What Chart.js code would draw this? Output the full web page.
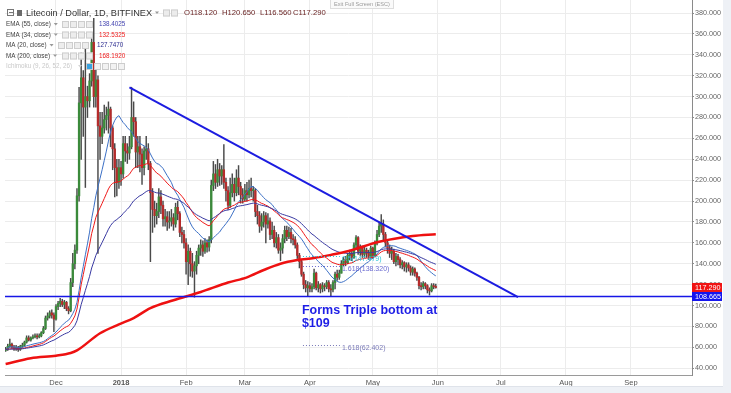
<!DOCTYPE html>
<html>
<head>
<meta charset="utf-8">
<script src="https://cdn.jsdelivr.net/npm/chart.js@4.4.0/dist/chart.umd.min.js"></script>
<style>
  html, body { margin: 0; padding: 0; background: #fff; }
</style>
</head>
<body>
<canvas id="ltcChart" width="731" height="393"></canvas>
<script>
// Litecoin / Dollar, 1D, Bitfinex - daily candles
// days are counted from 1 Nov 2017 (= day 0)
const firstDay = 6;
const firstOpen = 57;
const closes = [
  58, 61, 63, 60, 59, 60, 58, 61, 62, 65,
  69, 67, 69, 70, 71, 70, 71, 74, 78, 88,
  90, 93, 91, 87, 99, 102, 104, 101, 103, 97,
  95, 122, 140, 153, 205, 294, 318, 290, 300, 296,
  315, 352, 300, 316, 272, 262, 270, 278, 282, 288,
  270, 250, 232, 218, 232, 226, 255, 248, 246, 252,
  280, 276, 247, 252, 245, 232, 248, 250, 236, 208,
  192, 186, 190, 204, 196, 183, 185, 180, 181, 184,
  178, 194, 188, 170, 168, 160, 142, 152, 140, 133,
  138, 148, 155, 158, 152, 160, 156, 163, 215, 226,
  218, 230, 224, 230, 218, 210, 196, 208, 216, 208,
  222, 214, 206, 202, 210, 206, 212, 210, 210, 190,
  186, 176, 180, 186, 178, 181, 168, 172, 160, 165,
  153, 155, 164, 172, 166, 170, 164, 163, 158, 148,
  142, 130, 120, 117, 119, 116, 118, 131, 117, 120,
  116, 119, 118, 122, 116, 115, 122, 130, 127, 131,
  140, 144, 141, 148, 150, 146, 158, 165, 152, 156,
  149, 153, 150, 147, 155, 148, 160, 168, 176, 178,
  168, 160, 155, 150, 152, 142, 147, 144, 139, 141,
  137, 139, 136, 132, 135, 131, 127, 119, 118, 121,
  119, 115, 114, 119, 118.12, 117.29
];
const highs = [
  60, 63, 68, 64, 62, 62, 61, 62, 64, 66,
  71, 71, 70, 72, 73, 73, 73, 75, 80, 90,
  93, 95, 96, 93, 101, 104, 107, 106, 105, 104,
  99, 126, 150, 158, 212, 309, 342, 325, 350, 310,
  322, 358, 375, 330, 320, 285, 285, 292, 290, 295,
  290, 272, 255, 240, 240, 238, 262, 262, 255, 262,
  309, 295, 280, 262, 262, 250, 252, 262, 255, 238,
  212, 200, 198, 212, 210, 200, 192, 190, 190, 192,
  188, 198, 200, 190, 175, 172, 164, 158, 155, 150,
  142, 152, 158, 163, 162, 164, 163, 166, 220, 238,
  235, 240, 236, 234, 254, 222, 214, 222, 226, 222,
  230, 234, 218, 212, 216, 218, 220, 222, 214, 212,
  196, 190, 188, 190, 189, 188, 184, 180, 176, 170,
  168, 160, 168, 176, 176, 175, 174, 168, 166, 160,
  150, 144, 132, 124, 123, 122, 121, 135, 132, 123,
  121, 122, 121, 124, 124, 120, 124, 132, 134, 134,
  143, 146, 147, 150, 153, 152, 160, 167, 166, 158,
  157, 156, 155, 153, 157, 156, 162, 172, 180, 187,
  182, 170, 163, 158, 156, 154, 150, 149, 146, 143,
  142, 141, 141, 138, 137, 136, 132, 128, 122, 123,
  122, 120, 117, 121, 121, 120.65
];
const lows = [
  56, 57, 60, 59, 57, 57, 56, 57, 60, 61,
  64, 66, 66, 68, 69, 68, 69, 70, 73, 77,
  86, 88, 88, 75, 86, 96, 99, 99, 97, 95,
  92, 94, 118, 135, 150, 200, 240, 262, 213, 280,
  290, 310, 290, 290, 150, 240, 255, 265, 268, 265,
  252, 230, 204, 205, 212, 215, 222, 238, 236, 240,
  250, 262, 232, 232, 228, 216, 225, 240, 230, 142,
  170, 175, 178, 184, 188, 176, 176, 172, 174, 176,
  172, 175, 182, 166, 160, 155, 130, 120, 128, 127,
  108, 130, 140, 148, 147, 150, 151, 152, 160, 210,
  212, 214, 215, 216, 212, 200, 192, 194, 204, 200,
  205, 206, 198, 198, 200, 200, 203, 204, 200, 185,
  178, 170, 172, 175, 160, 174, 163, 164, 156, 155,
  150, 143, 150, 160, 162, 164, 160, 158, 155, 145,
  136, 128, 116, 113, 109, 113, 113, 116, 115, 113,
  112, 113, 114, 116, 113, 109.5, 113, 116, 124, 125,
  131, 138, 138, 140, 144, 143, 145, 155, 149, 148,
  146, 146, 146, 144, 145, 145, 147, 158, 166, 170,
  162, 156, 150, 146, 144, 140, 138, 139, 136, 135,
  133, 132, 133, 129, 129, 128, 124, 116, 115, 116,
  116, 112, 110, 113, 116, 116.56
];

// month ticks on the time axis
const monthStarts = [30, 61, 92, 120, 151, 181, 212, 242, 273, 304];
const monthLabels = ['Dec', '2018', 'Feb', 'Mar', 'Apr', 'May', 'Jun', 'Jul', 'Aug', 'Sep'];
const priceTicks = [40, 60, 80, 100, 120, 140, 160, 180, 200, 220, 240, 260, 280, 300, 320, 340, 360, 380];

// MA 200 needs history older than the candles, so it is read straight off the picture
const ma200Days = [6, 18, 30, 37, 40, 51, 60, 67, 75, 86, 99, 112, 121, 129, 137, 145, 153, 161, 170, 184, 200, 211];
const ma200Values = [44, 49.5, 52, 54.5, 57, 73.5, 82, 88, 97.5, 105, 113, 122, 127, 134, 140, 143.5, 145.5, 148.5, 152.5, 161, 166.5, 168.19];

// values printed in the indicator legend
const legendNames = ['EMA (55, close)', 'EMA (34, close)', 'MA (20, close)', 'MA (200, close)'];
const legendValues = ['138.4025', '132.5325', '127.7470', '168.1920'];

// hand drawn things on the chart
const trendDays = [65, 250.2];
const trendPrices = [308.8, 108];
const supportLevel = 108.665;
const fibLevels = [147.479, 138.32, 62.402];
const fibLabels = ['0.5(147.479)', '1.618(138.320)', '1.618(62.402)'];
const fibDays = [147.7, 165.3];
const noteLines = ['Forms Triple bottom at', '$109'];
const noteAt = [147.2, 91.7];

const days = closes.map((c, i) => firstDay + i);
const opens = closes.map((c, i) => (i === 0 ? firstOpen : closes[i - 1]));

function ema(values, n) {
  const k = 2 / (n + 1);
  let e = values[0];
  return values.map((v) => (e = v * k + e * (1 - k)));
}
function sma(values, n) {
  return values.map((v, i) => {
    const part = values.slice(Math.max(0, i - n + 1), i + 1);
    return part.reduce((a, b) => a + b, 0) / part.length;
  });
}
const ema55 = ema(closes, 55);
const ema34 = ema(closes, 34);
const ma20 = sma(closes, 20);

const UP = '#3b8a3b';
const DOWN = '#b52b2b';
const FONT = '"Liberation Sans", Arial, sans-serif';
const isUp = (i) => closes[i] >= opens[i];

const toPoints = (xs, ys) => xs.map((x, i) => ({ x: x, y: ys[i] }));

function iconBox(c, x, y, fill) {
  c.fillStyle = fill;
  c.fillRect(x, y, 7, 7);
  c.strokeStyle = '#cdcdcd';
  c.lineWidth = 1;
  c.strokeRect(x + 0.5, y + 0.5, 6, 6);
}
function caret(c, x, y, color) {
  c.fillStyle = color;
  c.beginPath();
  c.moveTo(x, y - 1.5);
  c.lineTo(x + 4, y - 1.5);
  c.lineTo(x + 2, y + 1);
  c.closePath();
  c.fill();
}

// drawings, legend and price boxes
const overlay = {
  id: 'overlay',
  beforeDraw(chart) {
    const c = chart.ctx;
    c.save();
    c.fillStyle = '#fff';
    c.fillRect(0, 0, chart.width, chart.height);
    c.restore();
  },
  afterDatasetsDraw(chart) {
    const c = chart.ctx;
    const xs = chart.scales.x;
    const ys = chart.scales.y;
    const area = chart.chartArea;
    c.save();
    c.beginPath();
    c.rect(area.left, area.top, area.right - area.left, area.bottom - area.top);
    c.clip();

    // fib levels
    const fibColors = ['#2cc3d8', '#6a6ad0', '#7a7ab8'];
    c.font = '7px ' + FONT;
    c.textBaseline = 'middle';
    fibLevels.forEach((lv, i) => {
      const y = Math.round(ys.getPixelForValue(lv)) + 0.5;
      c.strokeStyle = fibColors[i];
      c.lineWidth = 1;
      c.setLineDash([1, 2]);
      c.beginPath();
      c.moveTo(xs.getPixelForValue(fibDays[0]), y);
      c.lineTo(xs.getPixelForValue(fibDays[1]), y);
      c.stroke();
      c.setLineDash([]);
      c.fillStyle = fibColors[i];
      c.fillText(fibLabels[i], xs.getPixelForValue(fibDays[1]) + 2, y + 2.5);
    });

    // support
    const sy = ys.getPixelForValue(supportLevel);
    c.strokeStyle = '#1616e6';
    c.lineWidth = 1.5;
    c.beginPath();
    c.moveTo(area.left, sy);
    c.lineTo(area.right, sy);
    c.stroke();

    // falling trend line
    c.strokeStyle = '#1c1ce0';
    c.lineWidth = 2;
    c.beginPath();
    c.moveTo(xs.getPixelForValue(trendDays[0]), ys.getPixelForValue(trendPrices[0]));
    c.lineTo(xs.getPixelForValue(trendDays[1]), ys.getPixelForValue(trendPrices[1]));
    c.stroke();

    // note
    c.fillStyle = '#1d1de6';
    c.font = 'bold 12.5px ' + FONT;
    c.textBaseline = 'alphabetic';
    const nx = xs.getPixelForValue(noteAt[0]);
    const ny = ys.getPixelForValue(noteAt[1]);
    noteLines.forEach((t, i) => c.fillText(t, nx, ny + i * 13));
    c.restore();
  },
  afterDraw(chart) {
    const c = chart.ctx;
    const ys = chart.scales.y;
    const area = chart.chartArea;
    c.save();

    // panel edges
    c.fillStyle = '#eef1f6';
    c.fillRect(723, 0, chart.width - 723, chart.height);
    c.fillRect(0, 386, 723, chart.height - 386);
    c.fillStyle = '#dfe3ea';
    c.fillRect(0, 386, 723, 1);

    // last price and support boxes on the price axis
    c.font = '7.2px ' + FONT;
    c.textBaseline = 'middle';
    const boxes = [[closes[closes.length - 1], '#f01414'], [supportLevel, '#1414ee']];
    boxes.forEach(([v, col]) => {
      const y = ys.getPixelForValue(v);
      c.fillStyle = col;
      c.fillRect(area.right, y - 4.5, 30, 9);
      c.fillStyle = '#fff';
      c.fillText(v.toFixed(3), area.right + 3, y + 0.5);
    });

    // title row
    const last = closes.length - 1;
    c.strokeStyle = '#777';
    c.lineWidth = 1;
    c.strokeRect(7.5, 9.5, 6, 6);
    c.fillStyle = '#777';
    c.fillRect(9, 12, 4, 1);
    c.fillStyle = '#6a6a6a';
    c.fillRect(17, 10, 5, 6);
    c.fillStyle = '#333';
    c.font = '9.2px ' + FONT;
    c.fillText('Litecoin / Dollar, 1D, BITFINEX', 26, 13);
    caret(c, 155, 13, '#999');
    iconBox(c, 163, 9.5, '#ececec');
    iconBox(c, 171, 9.5, '#ececec');
    c.fillStyle = '#6b2626';
    c.font = '7.7px ' + FONT;
    c.fillText('O' + opens[last].toFixed(3), 184, 13);
    c.fillText('H' + highs[last].toFixed(3), 222, 13);
    c.fillText('L' + lows[last].toFixed(3), 260, 13);
    c.fillText('C' + closes[last].toFixed(3), 293, 13);

    // indicator legend
    const valColors = ['#4343b0', '#ee1c1c', '#2c2c90', '#ee1c1c'];
    const rowY = [24.5, 35, 45.5, 56];
    const valX = [99, 99, 97, 99];
    const boxX = [62, 62, 58, 62];
    c.font = '6.3px ' + FONT;
    legendNames.forEach((name, i) => {
      c.fillStyle = '#444';
      c.fillText(name, 6, rowY[i]);
      const w = c.measureText(name).width;
      caret(c, 6 + w + 3, rowY[i], '#999');
      for (let k = 0; k < 4; k++) iconBox(c, boxX[i] + k * 8, rowY[i] - 3.5, '#ededed');
      c.fillStyle = valColors[i];
      c.fillText(legendValues[i], valX[i], rowY[i]);
    });
    c.fillStyle = '#c9c9c9';
    c.fillText('Ichimoku (9, 26, 52, 26)', 6, 66.5);
    caret(c, 78, 66.5, '#d4d4d4');
    iconBox(c, 86, 63, '#3aa2e0');
    for (let k = 1; k < 5; k++) iconBox(c, 86 + k * 8, 63, '#f2f2f2');

    // full screen hint
    c.fillStyle = '#fafafa';
    c.fillRect(330, 0, 64, 9);
    c.strokeStyle = '#dddddd';
    c.strokeRect(330.5, -0.5, 63, 9);
    c.fillStyle = '#9a9a9a';
    c.font = '5.6px ' + FONT;
    c.fillText('Exit Full Screen (ESC)', 334, 4);
    c.restore();
  }
};

const ctx = document.getElementById('ltcChart').getContext('2d');
const myChart = new Chart(ctx, {
  type: 'bar',
  data: {
    datasets: [
      {
        type: 'line', label: 'MA 200', order: 0,
        data: toPoints(ma200Days, ma200Values),
        borderColor: '#ee1111', borderWidth: 2.5, pointRadius: 0,
        cubicInterpolationMode: 'monotone'
      },
      {
        type: 'line', label: 'EMA 55', order: 0,
        data: toPoints(days, ema55),
        borderColor: '#3a3aa2', borderWidth: 1, pointRadius: 0
      },
      {
        type: 'line', label: 'EMA 34', order: 0,
        data: toPoints(days, ema34),
        borderColor: '#f01a1a', borderWidth: 1, pointRadius: 0
      },
      {
        type: 'line', label: 'MA 20', order: 0,
        data: toPoints(days, ma20),
        borderColor: '#3c70c6', borderWidth: 1, pointRadius: 0
      },
      {
        label: 'bodies', order: 1, grouped: false,
        data: days.map((d, i) => ({ x: d, y: [opens[i], closes[i]] })),
        backgroundColor: days.map((d, i) => (isUp(i) ? UP : DOWN)),
        barThickness: 1.7, minBarLength: 1
      },
      {
        label: 'wicks', order: 2, grouped: false,
        data: days.map((d, i) => ({ x: d, y: [lows[i], highs[i]] })),
        backgroundColor: '#4a4a4a',
        barThickness: 0.8
      }
    ]
  },
  options: {
    responsive: false,
    animation: false,
    layout: { padding: { left: 5, right: 9, top: 0, bottom: 0 } },
    plugins: { legend: { display: false }, tooltip: { enabled: false } },
    scales: {
      x: {
        type: 'linear',
        min: 5.7,
        max: 333.1,
        offset: false,
        grid: { offset: false, color: '#ececec', drawTicks: false },
        border: { color: '#9a9a9a' },
        afterBuildTicks: (s) => { s.ticks = monthStarts.map((v) => ({ value: v })); },
        afterFit: (s) => { s.height = 18; s.paddingLeft = 0; s.paddingRight = 0; },
        ticks: {
          autoSkip: false,
          maxRotation: 0,
          padding: 3,
          color: '#555',
          font: (c) => ({ family: FONT, size: 7.5, weight: c.tick && c.tick.label === '2018' ? 'bold' : 'normal' }),
          callback: (v, i) => monthLabels[i]
        }
      },
      y: {
        position: 'right',
        min: 33.5,
        max: 392.5,
        grid: { color: '#ececec', tickColor: '#8a8a8a', tickLength: 2 },
        border: { color: '#8a8a8a' },
        afterBuildTicks: (s) => { s.ticks = priceTicks.map((v) => ({ value: v })); },
        afterFit: (s) => { s.width = 30; s.paddingTop = 0; s.paddingBottom = 0; },
        ticks: {
          padding: 1,
          color: '#666',
          font: { family: FONT, size: 7.2 },
          callback: (v) => Number(v).toFixed(3)
        }
      }
    }
  },
  plugins: [overlay]
});
</script>
</body>
</html>
